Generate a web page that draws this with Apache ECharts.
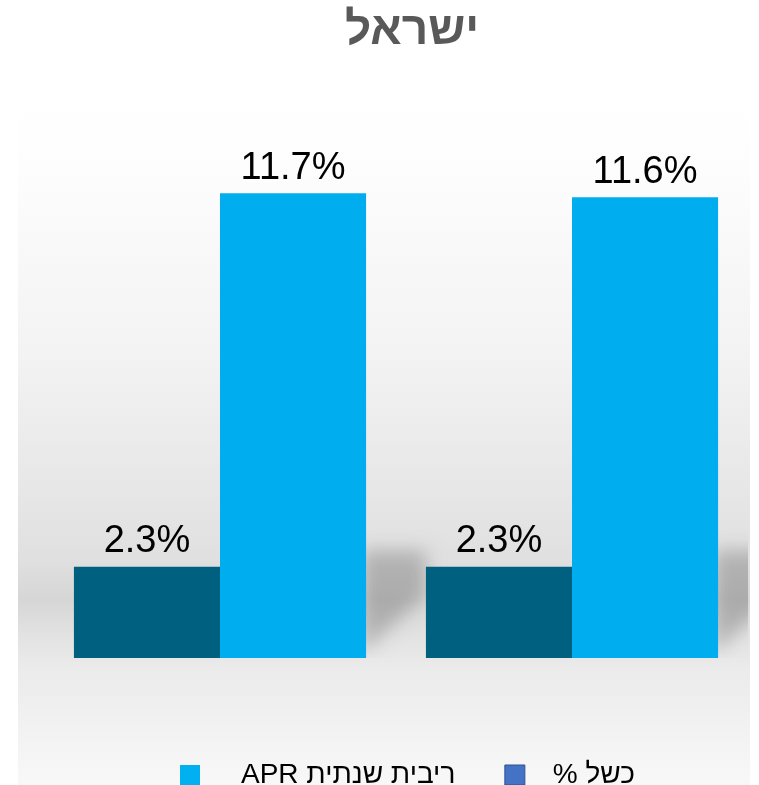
<!DOCTYPE html>
<html>
<head>
<meta charset="utf-8">
<script src="https://cdn.jsdelivr.net/npm/echarts@6/dist/echarts.min.js"></script>
<style>
  html, body { margin: 0; padding: 0; background: #fff; }
  #chart { width: 759px; height: 785px; }
</style>
</head>
<body>
<div id="chart"></div>
<script>
// data
var categories = ['1', '2'];
var failRate = [2.3, 2.3];
var aprRate = [11.7, 11.6];
var seriesNames = ['כשל %', 'ריבית שנתית APR'];
var titleText = 'ישראל';

// RTL embedding for hebrew strings
function rtl(s) { return '\u202B' + s + '\u202C'; }

var BAR_GAP = 0.17;
var chart = echarts.init(document.getElementById('chart'));

chart.setOption({
  backgroundColor: '#fff',
  animation: false,
  title: {
    text: titleText,
    left: 407,
    top: 3,
    textAlign: 'center',
    textStyle: { fontFamily: 'Liberation Sans', fontWeight: 'bold', fontSize: 46, color: '#595959' }
  },
  graphic: [{
    type: 'rect',
    z: -10,
    silent: true,
    shape: { x: 18, y: 100, width: 732, height: 685 },
    style: {
      fill: {
        type: 'linear', x: 0, y: 0, x2: 0, y2: 1,
        colorStops: [
          { offset: 0, color: '#ffffff' },
          { offset: 0.1, color: '#fdfdfd' },
          { offset: 0.37, color: '#f3f3f3' },
          { offset: 0.58, color: '#e6e6e6' },
          { offset: 0.67, color: '#e0e0e0' },
          { offset: 0.73, color: '#d6d6d6' },
          { offset: 0.78, color: '#e2e2e2' },
          { offset: 0.83, color: '#ebebeb' },
          { offset: 1, color: '#f8f8f8' }
        ]
      }
    }
  }],
  legend: {
    left: 175,
    top: 756,
    itemWidth: 20,
    itemHeight: 20,
    itemGap: 49,
    selectedMode: false,
    textStyle: { fontFamily: 'Liberation Sans', fontSize: 28, color: '#000' },
    data: [
      { name: seriesNames[1], icon: 'rect', itemStyle: { color: '#00b0f0' }, textStyle: { padding: [0, 0, 0, 36] } },
      { name: seriesNames[0], icon: 'rect', itemStyle: { color: '#4472c4', borderColor: '#2f528f', borderWidth: 1 }, textStyle: { padding: [0, 0, 0, 23] } }
    ],
    formatter: function (n) { return rtl(n); }
  },
  grid: { left: 44, right: 11, top: 102, bottom: 127 },
  xAxis: {
    type: 'category',
    data: categories,
    show: false
  },
  yAxis: {
    type: 'value',
    min: 0,
    max: 14,
    show: false
  },
  series: [
    {
      // soft floor shadow behind the light bars
      type: 'custom',
      silent: true,
      clip: true,
      z: 1,
      data: aprRate.map(function (v, i) { return [i, v]; }),
      renderItem: function (params, api) {
        var base = api.coord([api.value(0), 0]);
        var bw = api.size([1, 0])[0];
        var r = base[0] + bw * (1 - BAR_GAP) / 2;
        var y0 = base[1];
        var off = 2000;
        return {
          type: 'polygon',
          shape: { points: [[r - 4 - off, y0 - 108], [r + 60 - off, y0 - 108], [r + 60 - off, y0 - 64], [r - 4 - off, y0 - 4]] },
          style: { fill: '#000', shadowBlur: 18, shadowColor: 'rgba(0,0,0,0.2)', shadowOffsetX: off }
        };
      }
    },
    {
      name: seriesNames[0],
      type: 'bar',
      z: 2,
      data: failRate,
      barGap: '0%',
      barCategoryGap: (BAR_GAP * 100) + '%',
      itemStyle: { color: '#006080' },
      label: {
        show: true, position: 'top', distance: 6,
        fontFamily: 'Liberation Sans', fontSize: 38, color: '#000',
        formatter: function (p) { return p.value.toFixed(1) + '%'; }
      }
    },
    {
      name: seriesNames[1],
      type: 'bar',
      z: 2,
      data: aprRate,
      itemStyle: { color: '#00aeef' },
      label: {
        show: true, position: 'top', distance: 6,
        fontFamily: 'Liberation Sans', fontSize: 38, color: '#000',
        formatter: function (p) { return p.value.toFixed(1) + '%'; }
      }
    }
  ]
});
</script>
</body>
</html>
